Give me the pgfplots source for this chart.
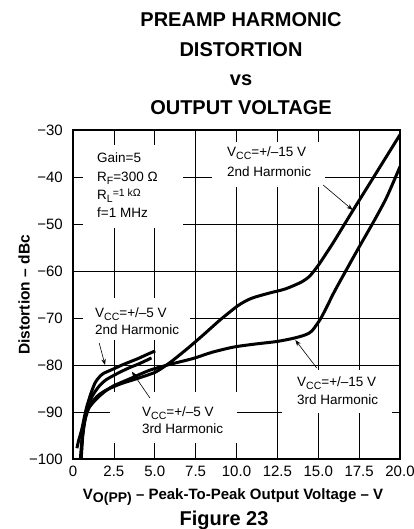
\documentclass[border=0pt]{standalone}
\usepackage{fontspec}
\setmainfont{Liberation Sans}
\usepackage{pgfplots}
\pgfplotsset{compat=1.18}
\usetikzlibrary{arrows.meta}
\newcommand{\ann}{\fontsize{13.5}{16}\selectfont}
\newcommand{\sub}[1]{\raisebox{-0.4ex}{\fontsize{10.5}{12}\selectfont #1}}
\begin{document}
\begin{tikzpicture}[x=1pt,y=1pt]
\begin{axis}[
  at={(0,0)}, anchor=south west,
  scale only axis, width=327pt, height=329pt,
  xmin=0, xmax=20, ymin=-100, ymax=-30,
  xtick={0,2.5,5,7.5,10,12.5,15,17.5,20},
  xticklabels={0,2.5,5.0,7.5,10.0,12.5,15.0,17.5,20.0},
  ytick={-100,-90,-80,-70,-60,-50,-40,-30},
  yticklabels={−100,−90,−80,−70,−60,−50,−40,−30},
  major tick length=0pt,
  grid=major,
  major grid style={black, line width=0.7pt},
  axis line style={black, line width=2pt},
  tick label style={font=\fontsize{15}{18}\selectfont},
  xticklabel style={anchor=north, inner sep=0pt, yshift=-7pt},
  yticklabel style={anchor=east, inner sep=0pt, xshift=-10pt},
  curve/.style={black, no markers, line width=3pt, line join=round, smooth, tension=0.45},
]
% +/-15 V 2nd harmonic
\addplot[curve] coordinates {
(0.5,-100) (0.55,-96) (0.65,-93) (0.8,-90.5) (1.0,-88.7) (1.5,-86.6) (2.0,-85.4)
(2.5,-84.6) (3,-83.9) (4,-82.8) (5,-81.6) (5.3,-81) (6,-79.3) (7,-76.5) (8,-73.5)
(9,-70.4) (10,-67.6) (10.5,-66.5) (11,-65.7) (12,-64.7) (13,-63.8) (14,-62.3)
(14.5,-61) (15,-58.8) (15.5,-56.2) (16,-53.5) (17,-47.8) (18,-42.2) (19,-36.6) (20,-31)
};
% +/-15 V 3rd harmonic
\addplot[curve] coordinates {
(0.5,-100) (0.6,-95) (0.75,-91.5) (1.0,-89) (1.5,-87) (2,-85.5) (2.5,-84.4) (3.5,-82.9)
(4.7,-81.1) (6,-79.8) (7.36,-78.6) (8.5,-77.3) (9.8,-76.2) (11,-75.6) (12.46,-75.0)
(13.5,-74.3) (14.2,-73.6) (14.6,-72.8) (15.1,-70.4) (15.5,-67.8) (16,-64.3) (17,-58.0)
(17.55,-54.6) (18.5,-48.8) (19.2,-44.2) (20,-37.8)
};
% +/-5 V 2nd harmonic
\addplot[curve] coordinates {
(0.24,-97.7) (0.35,-96) (0.53,-93.8) (0.7,-91) (0.84,-88.9) (1.1,-86) (1.35,-83.8)
(1.6,-82.6) (1.86,-81.8) (2.5,-80.8) (3.0,-80) (3.5,-79.3) (4.0,-78.6) (4.5,-77.8) (5.03,-77.0)
};
% +/-5 V 3rd harmonic
\addplot[curve] coordinates {
(0.45,-100) (0.55,-96) (0.7,-92) (0.9,-89) (1.2,-86.5) (1.6,-84.5) (2.0,-83.2)
(2.5,-82.2) (3.0,-81.3) (3.5,-80.5) (4.0,-79.8) (4.5,-79.0) (4.8,-78.5)
};
\coordinate (t1) at (axis cs:15.3,-41.7);
\coordinate (h1) at (axis cs:17.1,-47.0);
\coordinate (t2) at (axis cs:14.9,-80.6);
\coordinate (h2) at (axis cs:13.6,-74.7);
\coordinate (t3) at (axis cs:1.6,-75.3);
\coordinate (h3) at (axis cs:1.96,-80.0);
\coordinate (t4) at (axis cs:4.7,-87.0);
\coordinate (h4) at (axis cs:3.6,-81.4);
\end{axis}
% white label boxes
\fill[white] (10,231) rectangle (110,314);
\fill[white] (139,272) rectangle (252,317);
\fill[white] (209,46) rectangle (319,89);
\fill[white] (10,119) rectangle (117,161);
\fill[white] (37,16) rectangle (164,67);
% annotation text
\node[anchor=base west, inner sep=0pt] at (24,296) {\ann Gain=5};
\node[anchor=base west, inner sep=0pt] at (24,277) {\ann R\sub{F}=300 Ω};
\node[anchor=base west, inner sep=0pt] at (24,259) {\ann R\sub{L}\raisebox{0.45ex}{\fontsize{10.5}{12}\selectfont=1 kΩ}};
\node[anchor=base west, inner sep=0pt] at (24,241) {\ann f=1 MHz};
\node[anchor=base west, inner sep=0pt] at (154,302) {\ann V\sub{CC}=+/–15 V};
\node[anchor=base west, inner sep=0pt] at (154,282) {\ann 2nd Harmonic};
\node[anchor=base west, inner sep=0pt] at (224,72) {\ann V\sub{CC}=+/–15 V};
\node[anchor=base west, inner sep=0pt] at (224,54) {\ann 3rd Harmonic};
\node[anchor=base west, inner sep=0pt] at (22,141) {\ann V\sub{CC}=+/–5 V};
\node[anchor=base west, inner sep=0pt] at (22,124) {\ann 2nd Harmonic};
\node[anchor=base west, inner sep=0pt] at (69,42) {\ann V\sub{CC}=+/–5 V};
\node[anchor=base west, inner sep=0pt] at (69,25) {\ann 3rd Harmonic};
% arrows
\foreach \i in {1,2,3,4}{
  \draw[black, line width=0.6pt, -{Stealth[length=6pt,width=4.5pt]}] (t\i) -- (h\i);
}
% title
\node[anchor=base, inner sep=0pt] at (168,432) {\fontsize{20}{24}\selectfont\bfseries PREAMP HARMONIC};
\node[anchor=base, inner sep=0pt] at (168,402) {\fontsize{20}{24}\selectfont\bfseries DISTORTION};
\node[anchor=base, inner sep=0pt] at (168,373) {\fontsize{20}{24}\selectfont\bfseries vs};
\node[anchor=base, inner sep=0pt] at (168,344) {\fontsize{20}{24}\selectfont\bfseries OUTPUT VOLTAGE};
% axis labels
\node[rotate=90, inner sep=0pt] at (-49,164) {\fontsize{15.5}{18}\selectfont\bfseries Distortion – dBc};
\node[inner sep=0pt] at (160,-38) {\fontsize{15}{18}\selectfont\bfseries V\raisebox{-0.45ex}{\fontsize{14}{16}\selectfont O(PP)} – Peak-To-Peak Output Voltage – V};
\node[inner sep=0pt] at (151,-61) {\fontsize{20}{24}\selectfont\bfseries Figure 23};
\pgfresetboundingbox
\path[use as bounding box] (-73,-70) rectangle (341,459);
\end{tikzpicture}
\end{document}
